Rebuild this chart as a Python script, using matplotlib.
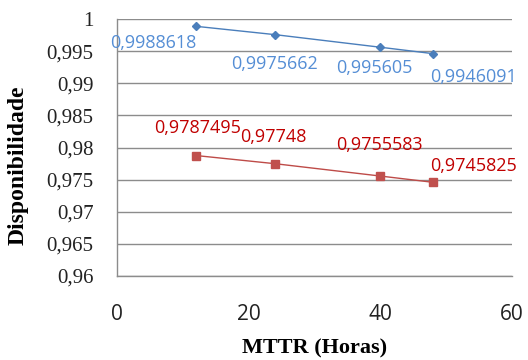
import matplotlib.pyplot as plt
from matplotlib.ticker import MultipleLocator, FuncFormatter

plt.rcParams["font.family"] = ["Liberation Serif", "DejaVu Serif"]

# Dados
mttr = [12, 24, 40, 48]
disp_azul = [0.9988618, 0.9975662, 0.995605, 0.9946091]
disp_vermelho = [0.9787495, 0.97748, 0.9755583, 0.9745825]
rotulos_azul = ["0,9988618", "0,9975662", "0,995605", "0,9946091"]
rotulos_vermelho = ["0,9787495", "0,97748", "0,9755583", "0,9745825"]

# deslocamentos dos rótulos (pontos)
offs_azul = [(-31, -12), (0, -21), (-4, -15), (29, -17)]
offs_vermelho = [(1, 20), (-1, 19), (-1, 22), (29, 12)]

fig = plt.figure(figsize=(5.28, 3.6), dpi=100)
ax = fig.add_axes([117 / 528, 1 - 276 / 360, (512 - 117) / 528, (276 - 19) / 360])

ax.plot(mttr, disp_azul, color="#4A7EBB", lw=1, marker="D", ms=4.5,
        markerfacecolor="#4A7EBB", markeredgecolor="#4A7EBB", zorder=3)
ax.plot(mttr, disp_vermelho, color="#BE4B48", lw=1, marker="s", ms=5.5,
        markerfacecolor="#C0504D", markeredgecolor="#C0504D", zorder=3)

for x, y, t, o in zip(mttr, disp_azul, rotulos_azul, offs_azul):
    ax.annotate(t, (x, y), xytext=o, textcoords="offset points", ha="center",
                va="center", color="#558ED5", fontsize=13, family="Open Sans")
for x, y, t, o in zip(mttr, disp_vermelho, rotulos_vermelho, offs_vermelho):
    ax.annotate(t, (x, y), xytext=o, textcoords="offset points", ha="center",
                va="center", color="#C00000", fontsize=13, family="Open Sans")

ax.set_xlim(0, 60)
ax.set_ylim(0.96, 1.0)
ax.xaxis.set_major_locator(MultipleLocator(20))
ax.yaxis.set_major_locator(MultipleLocator(0.005))
ax.yaxis.set_major_formatter(FuncFormatter(lambda v, p: f"{v:.3f}".rstrip("0").rstrip(".").replace(".", ",")))

ax.grid(axis="y", color="#8C8C8C", lw=1)
ax.set_axisbelow(True)
for s in ["top", "right"]:
    ax.spines[s].set_visible(False)
for s in ["left", "bottom"]:
    ax.spines[s].set_color("#8C8C8C")
    ax.spines[s].set_linewidth(1)

ax.tick_params(axis="both", length=0, labelcolor="#222222")
ax.tick_params(axis="y", pad=17, labelsize=15)
ax.tick_params(axis="x", pad=20, labelsize=15)

ax.set_xlabel("MTTR (Horas)", fontweight="bold", fontsize=16, va="top")
ax.xaxis.set_label_coords(0.5, -0.245)
ax.set_ylabel("Disponibilidade", fontweight="bold", fontsize=17)
ax.yaxis.set_label_coords(-0.225, 0.43)

fig.canvas.draw()
for lb in ax.get_xticklabels():
    lb.set_fontfamily("Open Sans")

fig.savefig("out.png", dpi=100)
